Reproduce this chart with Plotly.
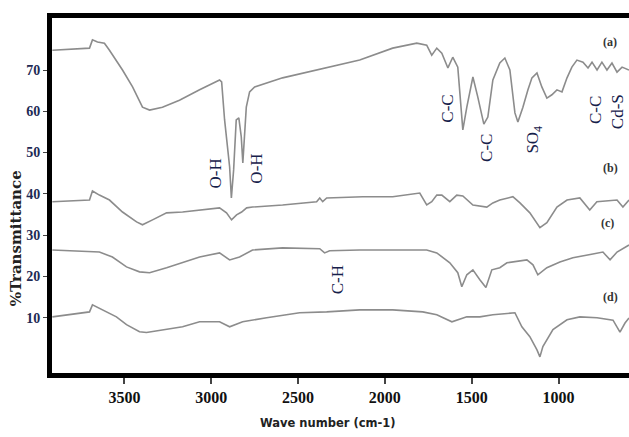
import plotly.graph_objects as go

# ---- data (wavenumber cm-1, % transmittance) ----
wn_a = [3915, 3817, 3701, 3684, 3655, 3615, 3586, 3511, 3453, 3396, 3355, 3281, 3183, 3067, 3010, 2952,
        2940, 2923, 2894, 2884, 2871, 2856, 2841, 2827, 2818, 2808, 2798, 2779, 2750, 2589, 2393, 2145,
        1955, 1816, 1759, 1730, 1701, 1672, 1637, 1609, 1580, 1551, 1528, 1493, 1465, 1430, 1407, 1378,
        1338, 1309, 1280, 1251, 1234, 1205, 1176, 1153, 1124, 1096, 1067, 1038, 1009, 980, 951, 923, 894,
        859, 830, 807, 778, 750, 721, 692, 663, 634, 594]
tr_a = [74.8, 75.1, 75.3, 77.3, 76.8, 76.5, 74.8, 70.0, 65.9, 61.0, 60.3, 61.0, 62.7, 65.2, 66.4, 67.6,
        67.1, 57.9, 46.5, 39.0, 45.8, 57.9, 58.4, 53.8, 47.5, 53.1, 61.0, 64.7, 65.9, 68.1, 70.0, 72.4,
        75.3, 76.5, 76.0, 73.6, 75.3, 74.1, 70.5, 73.1, 70.7, 55.5, 61.0, 68.3, 63.5, 56.9, 58.6, 67.6,
        71.7, 72.9, 70.0, 59.6, 57.4, 61.0, 65.2, 68.1, 69.3, 65.9, 63.2, 64.0, 65.2, 64.7, 68.1, 70.7, 72.4,
        71.9, 70.5, 71.9, 70.0, 71.9, 70.0, 71.7, 69.5, 70.7, 70.0]

wn_b = [3915, 3701, 3684, 3644, 3586, 3511, 3430, 3396, 3338, 3257, 3165, 3067, 2952, 2912, 2883, 2854,
        2825, 2796, 2762, 2589, 2393, 2375, 2358, 2335, 2127, 1955, 1799, 1759, 1730, 1701, 1672, 1626,
        1586, 1551, 1493, 1413, 1378, 1338, 1263, 1222, 1165, 1107, 1067, 1009, 951, 877, 820, 779, 663,
        629, 594]
tr_b = [38.1, 38.5, 40.7, 39.7, 38.5, 35.6, 33.2, 32.5, 33.7, 35.4, 35.6, 36.1, 36.6, 35.4, 33.7, 34.9,
        35.6, 36.6, 36.8, 37.3, 38.1, 39.0, 38.1, 39.0, 39.3, 39.3, 40.2, 37.3, 38.1, 39.7, 39.7, 38.1,
        39.7, 39.5, 37.3, 36.8, 37.8, 38.5, 39.3, 37.8, 35.4, 31.8, 33.0, 36.8, 38.5, 39.0, 36.1, 38.1, 38.5,
        36.8, 38.5]

wn_c = [3915, 3644, 3569, 3488, 3413, 3355, 3257, 3165, 3067, 2952, 2894, 2837, 2762, 2589, 2375, 2347,
        2318, 2145, 2029, 1759, 1701, 1626, 1580, 1557, 1528, 1493, 1453, 1418, 1384, 1338, 1297, 1182,
        1147, 1119, 1067, 992, 917, 836, 744, 703, 663, 594]
tr_c = [26.4, 25.9, 24.7, 22.3, 21.1, 20.9, 22.1, 23.3, 24.7, 25.7, 24.0, 24.7, 26.4, 26.9, 26.7, 25.7,
        26.2, 26.4, 26.4, 26.4, 25.7, 23.3, 20.9, 17.5, 20.4, 21.6, 19.2, 17.3, 21.6, 22.1, 23.3, 24.0,
        22.8, 20.4, 22.1, 23.5, 24.5, 25.2, 25.9, 24.0, 25.9, 27.6]

wn_d = [3915, 3701, 3684, 3626, 3546, 3488, 3413, 3373, 3257, 3165, 3067, 2952, 2894, 2819, 2681, 2491,
        2335, 2145, 1955, 1782, 1701, 1614, 1528, 1453, 1378, 1251, 1211, 1165, 1124, 1107, 1090, 1032,
        951, 877, 778, 686, 646, 617, 594]
tr_d = [10.2, 11.4, 13.1, 11.9, 10.2, 8.3, 6.6, 6.4, 7.1, 7.8, 9.0, 9.0, 7.8, 9.0, 10.0, 11.2,
        11.4, 11.9, 11.9, 11.4, 10.7, 9.0, 10.2, 10.2, 10.7, 11.2, 7.8, 5.4, 2.2, 0.5, 3.0, 7.1,
        9.5, 10.2, 10.0, 9.4, 6.5, 8.7, 9.9]

x_ticks = [3500, 3000, 2500, 2000, 1500, 1000]
y_ticks = [10, 20, 30, 40, 50, 60, 70]

band_labels = ["O-H", "O-H", "C-H", "C-C", "C-C", "SO<sub>4</sub>", "C-C", "Cd-S"]
band_wn = [2981, 2739, 2272, 1637, 1418, 1142, 790, 663]
band_tr = [44.8, 46.0, 19.2, 60.6, 51.1, 53.1, 60.3, 59.8]

curve_labels = ["(a)", "(b)", "(c)", "(d)"]
curve_label_wn = [703, 703, 715, 703]
curve_label_tr = [76.8, 46.3, 33.0, 15.1]

fig = go.Figure()
for wn, tr in [(wn_a, tr_a), (wn_b, tr_b), (wn_c, tr_c), (wn_d, tr_d)]:
    fig.add_trace(go.Scatter(x=wn, y=tr, mode="lines",
                             line=dict(color="#8c8c8c", width=1.6), showlegend=False,
                             hoverinfo="skip"))

for txt, x, y in zip(band_labels, band_wn, band_tr):
    fig.add_annotation(x=x, y=y, text=txt, textangle=-90, showarrow=False,
                       font=dict(family="Liberation Serif", size=17, color="#16204a"))

for txt, x, y in zip(curve_labels, curve_label_wn, curve_label_tr):
    fig.add_annotation(x=x, y=y, text="<b>" + txt + "</b>", showarrow=False,
                       font=dict(family="Liberation Serif", size=12, color="#333333"))

# axis titles as annotations (placed like the reference)
fig.add_annotation(xref="paper", yref="paper", x=0.478, y=-0.142, xanchor="center", yanchor="middle",
                   text="<b>Wave number (cm-1)</b>", showarrow=False,
                   font=dict(family="DejaVu Sans", size=11.5, color="#222"))
fig.add_annotation(xref="paper", yref="paper", x=-0.062, y=0.38, xanchor="center", yanchor="middle",
                   text="<b>%Transmittance</b>", textangle=-90, showarrow=False,
                   font=dict(family="DejaVu Serif", size=15, color="#222"))

fig.update_layout(
    width=629, height=437,
    margin=dict(l=52, r=0, t=18, b=64),
    paper_bgcolor="white", plot_bgcolor="white",
    xaxis=dict(range=[3917, 594], tickvals=x_ticks, ticktext=["<b>%d</b>" % v for v in x_ticks],
               showgrid=False, zeroline=False, showline=True, linewidth=5, linecolor="black",
               mirror=True, ticks="outside", ticklen=6, tickwidth=1.5, tickcolor="#444",
               tickfont=dict(family="Liberation Serif", size=16, color="#111")),
    yaxis=dict(range=[-3.4, 82.6], tickvals=y_ticks, ticktext=["<b>%d</b>" % v for v in y_ticks],
               showgrid=False, zeroline=False, showline=True, linewidth=5, linecolor="black",
               mirror=False, ticks="outside", ticklen=4, tickwidth=1, tickcolor="#444",
               tickfont=dict(family="Liberation Serif", size=14, color="#1e2a55")),
)

fig.write_html("out.html")
